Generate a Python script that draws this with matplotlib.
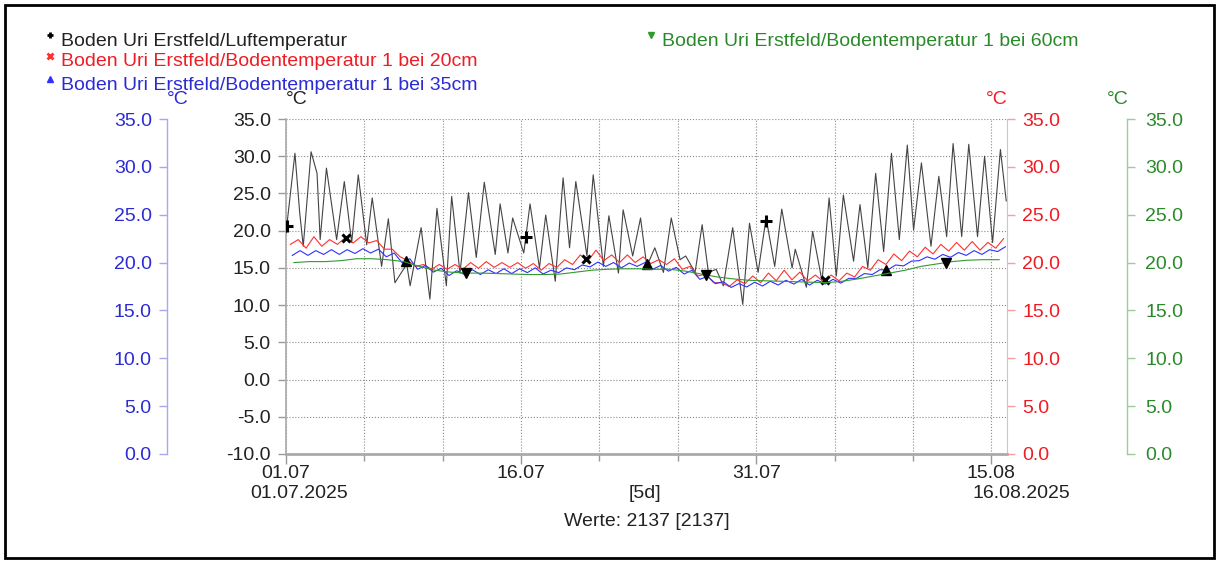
import numpy as np
import matplotlib
matplotlib.use("Agg")
import matplotlib.pyplot as plt
from matplotlib.lines import Line2D
from matplotlib.patches import Rectangle
from matplotlib.ticker import FixedLocator, FixedFormatter, FormatStrFormatter, MultipleLocator

plt.rcParams['font.family'] = ['Liberation Sans', 'DejaVu Sans']

# --- data, x in days since 01.07.2025 00:00 ---
# air temperature (daily turning points)
air_days = [0.0, 0.57, 0.87, 1.1, 1.6, 1.98, 2.18, 2.58, 3.23, 3.72, 4.19, 4.61, 5.15, 5.5,
            6.1, 6.53, 6.95, 7.7, 7.92, 8.62, 9.18, 9.63, 10.23, 10.57, 11.1, 11.64, 12.14,
            12.65, 13.35, 13.66, 14.16, 14.46, 15.17, 15.57, 16.17, 16.57, 17.18, 17.68,
            18.09, 18.49, 19.2, 19.6, 20.25, 20.6, 21.21, 21.51, 22.12, 22.62, 23.02, 23.53,
            24.08, 24.58, 25.14, 25.5, 26.1, 26.55, 26.95, 27.45, 27.9, 28.5, 29.14, 29.57,
            30.12, 30.63, 31.18, 31.63, 32.29, 32.49, 33.2, 33.6, 34.2, 34.65, 35.11, 35.56,
            36.21, 36.62, 37.12, 37.62, 38.13, 38.63, 39.13, 39.64, 40.04, 40.54, 41.15,
            41.65, 42.15, 42.56, 43.11, 43.56, 44.12, 44.57, 45.08, 45.58, 45.95]
air_temp = [19.7, 30.4, 22.5, 17.9, 30.6, 27.7, 18.8, 28.4, 18.8, 26.6, 18.4, 27.5, 18.1, 24.4,
            15.2, 21.6, 13.0, 15.5, 12.6, 20.4, 10.8, 23.0, 12.6, 24.6, 14.3, 25.1, 16.4,
            26.5, 16.8, 23.6, 17.0, 21.7, 17.0, 23.6, 15.0, 22.1, 13.2, 27.1,
            17.7, 26.6, 16.6, 27.5, 15.2, 22.0, 14.3, 22.8, 16.6, 21.7, 15.2, 17.7,
            14.4, 21.7, 16.1, 16.6, 14.4, 20.8, 14.4, 14.8, 12.6, 20.4, 10.1, 21.0,
            14.4, 21.7, 15.2, 22.9, 15.0, 17.5, 12.4, 19.9, 13.2, 24.4, 13.9, 24.8,
            15.9, 23.5, 15.0, 27.7, 17.2, 30.4, 18.8, 31.5, 20.1, 29.1, 17.9,
            27.3, 19.2, 31.7, 19.2, 31.6, 19.2, 30.0, 18.4, 30.9, 24.0]

# soil 20 cm: daily max / min
red_hi = [22.4, 22.7, 22.4, 22.6, 22.7, 22.3, 21.4, 20.2, 19.8, 19.8, 19.8, 20.0, 20.1, 20.0,
          20.0, 19.9, 19.9, 20.3, 20.8, 21.3, 20.8, 20.8, 20.6, 20.3, 20.4, 19.6, 18.8, 17.9,
          18.2, 18.6, 18.9, 19.2, 19.0, 18.7, 18.7, 18.9, 19.6, 20.3, 20.9, 21.2, 21.6, 21.9,
          22.1, 22.2, 22.1, 22.5]
red_lo = [21.9, 21.5, 21.7, 21.9, 22.05, 22.05, 21.4, 20.6, 19.6, 19.3, 19.3, 19.3, 19.4, 19.5,
          19.5, 19.4, 19.2, 19.5, 19.8, 20.2, 20.2, 20.0, 20.0, 19.9, 19.8, 19.3, 18.6, 17.9,
          17.5, 17.8, 17.9, 18.1, 18.2, 18.1, 18.0, 18.1, 18.5, 19.2, 19.8, 20.2, 20.6, 20.9,
          21.2, 21.3, 21.3, 21.5]
# soil 35 cm: daily max / min
blue_hi = [21.25, 21.25, 21.35, 21.35, 21.45, 21.4, 21.0, 20.4, 19.7, 19.4, 19.15, 19.25, 19.25,
           19.35, 19.35, 19.45, 19.2, 19.45, 19.75, 20.05, 20.0, 19.95, 20.0, 19.7, 19.5, 19.2,
           18.55, 18.0, 17.8, 17.95, 18.05, 18.15, 18.25, 18.15, 18.25, 18.35, 18.85, 19.25,
           19.75, 20.15, 20.6, 20.85, 21.05, 21.25, 21.35, 21.65]
blue_lo = [20.75, 20.75, 20.85, 20.85, 20.95, 21.0, 20.6, 20.0, 19.3, 19.0, 18.65, 18.75, 18.75,
           18.85, 18.85, 18.95, 18.8, 18.95, 19.25, 19.55, 19.6, 19.45, 19.6, 19.3, 19.1, 18.8,
           18.25, 17.8, 17.4, 17.45, 17.55, 17.65, 17.75, 17.65, 17.75, 17.85, 18.35, 18.75,
           19.25, 19.65, 20.2, 20.35, 20.55, 20.75, 20.85, 21.15]
# soil 60 cm: daily value
green_day = [20.0, 20.1, 20.1, 20.2, 20.4, 20.4, 20.3, 20.1, 19.6, 19.2, 19.0, 18.9, 18.9, 18.85,
             18.8, 18.75, 18.75, 18.8, 19.0, 19.2, 19.3, 19.35, 19.35, 19.3, 19.3, 19.1, 18.8,
             18.5, 18.3, 18.15, 18.1, 18.05, 18.0, 17.95, 17.9, 18.05, 18.3, 18.6, 18.9, 19.2,
             19.6, 19.85, 20.1, 20.25, 20.3, 20.3]

# marker positions (days)
air_marks = [0.05, 15.3, 30.6]
red_marks = [3.83, 19.15, 34.4]
blue_marks = [7.66, 23.0, 38.3]
green_marks = [11.5, 26.8, 42.1]

tick_days = [0, 15, 30, 45]
tick_labels = ['01.07', '16.07', '31.07', '15.08']
minor_days = [5, 10, 20, 25, 35, 40]

names = ['Boden Uri Erstfeld/Luftemperatur',
         'Boden Uri Erstfeld/Bodentemperatur 1 bei 20cm',
         'Boden Uri Erstfeld/Bodentemperatur 1 bei 35cm',
         'Boden Uri Erstfeld/Bodentemperatur 1 bei 60cm']

BLACK = '#444444'
RED = '#ff3030'
BLUE = '#3030ff'
GREEN = '#2f9a2f'
RED_T = '#ee1c24'
BLUE_T = '#2b2bd6'
GREEN_T = '#2a8a2a'
TXT = '#222222'

# build soil time series
days = np.arange(len(red_hi))
red_t = np.ravel(np.column_stack([days + 0.28, days + 0.78]))
red_v = np.ravel(np.column_stack([red_lo, red_hi]))
blue_t = np.ravel(np.column_stack([days + 0.4, days + 0.9]))
blue_v = np.ravel(np.column_stack([blue_lo, blue_hi]))
green_t = days + 0.5

W, H = 1219, 563
fig = plt.figure(figsize=(W / 100, H / 100), dpi=100)


def fx(x):
    return x / W


def fy(y):
    return 1 - y / H


FS = 14
ax = fig.add_axes([fx(286), fy(454), fx(1007) - fx(286), fy(119) - fy(454)])
ax.set_xlim(0, 46)
ax.set_ylim(-10, 35)
ax.plot(air_days, air_temp, color=BLACK, lw=0.8, zorder=3)
ax.plot(air_marks, np.interp(air_marks, air_days, air_temp), ls='none', marker='+',
        ms=8, mew=2.2, color='black', zorder=5)

ax.xaxis.set_major_locator(FixedLocator(tick_days))
ax.xaxis.set_major_formatter(FixedFormatter(tick_labels))
ax.xaxis.set_minor_locator(FixedLocator(minor_days))
ax.yaxis.set_major_locator(MultipleLocator(5))
ax.yaxis.set_major_formatter(FormatStrFormatter('%.1f'))
ax.grid(True, which='both', ls=':', color='#8a8a8a', lw=0.8)
ax.tick_params(axis='x', which='major', length=7, width=1, color='#999999', pad=1,
               labelsize=FS, labelcolor=TXT)
ax.tick_params(axis='x', which='minor', length=5, width=1, color='#999999')
ax.tick_params(axis='y', length=6, width=1, color='#999999', pad=5,
               labelsize=FS, labelcolor=TXT)
ax.spines['top'].set_visible(False)
ax.spines['right'].set_color('#c8c8c8')
ax.spines['right'].set_linewidth(0.8)
ax.spines['bottom'].set_color('#aaaaaa')
ax.spines['bottom'].set_linewidth(2)
ax.spines['left'].set_color('#aaaaaa')
ax.spines['left'].set_linewidth(1.2)


def side_axis(side, pos, line_col, text_col, pad):
    a = ax.twinx()
    a.set_ylim(0, 35)
    for s in ['top', 'bottom', 'left', 'right']:
        a.spines[s].set_visible(False)
    a.spines[side].set_visible(True)
    a.spines[side].set_position(('axes', pos))
    a.spines[side].set_color(line_col)
    a.spines[side].set_linewidth(1)
    if side == 'left':
        a.yaxis.tick_left()
    else:
        a.yaxis.tick_right()
    a.yaxis.set_major_locator(MultipleLocator(5))
    a.yaxis.set_major_formatter(FormatStrFormatter('%.1f'))
    a.tick_params(axis='y', length=6, width=1, color=line_col, pad=pad,
                  labelsize=FS, labelcolor=text_col)
    return a


span = 1007 - 286
ax_red = side_axis('right', 1.0, '#f4a0a0', RED_T, 5)
ax_red.spines['right'].set_visible(False)
ax_blue = side_axis('left', (167 - 286) / span, '#a8a8f0', BLUE_T, 5)
ax_green = side_axis('right', (1127 - 286) / span, '#9ccc9c', GREEN_T, 7)

ax_green.plot(green_t, green_day, color=GREEN, lw=0.8)
ax_blue.plot(blue_t, blue_v, color=BLUE, lw=0.8)
ax_red.plot(red_t, red_v, color=RED, lw=0.8)
ax_red.plot(red_marks, np.interp(red_marks, red_t, red_v), ls='none', marker='x',
            ms=6, mew=2.2, color='black')
ax_blue.plot(blue_marks, np.interp(blue_marks, blue_t, blue_v), ls='none', marker='^',
             ms=7, color='black')
ax_green.plot(green_marks, np.interp(green_marks, green_t, green_day), ls='none',
              marker='v', ms=7, color='black')
for a in (ax_red, ax_blue, ax_green):
    a.set_xlim(0, 46)

# unit labels
fig.text(fx(178), fy(100), '°C', color=BLUE_T, fontsize=FS, ha='center', va='center')
fig.text(fx(297), fy(100), '°C', color=TXT, fontsize=FS, ha='center', va='center')
fig.text(fx(997), fy(100), '°C', color=RED_T, fontsize=FS, ha='center', va='center')
fig.text(fx(1118), fy(100), '°C', color=GREEN_T, fontsize=FS, ha='center', va='center')

# legend
leg = [(50, 41, names[0], 'black', TXT, '+'),
       (50, 62, names[1], RED, RED_T, 'x'),
       (50, 85, names[2], BLUE, BLUE_T, '^'),
       (651, 41, names[3], GREEN, GREEN_T, 'v')]
for x, y, txt, mc, tc, m in leg:
    mew = 2 if m in '+x' else 1
    fig.add_artist(Line2D([fx(x)], [fy(y - 6)], marker=m, ms=5, mew=mew, color=mc,
                          transform=fig.transFigure))
    fig.text(fx(x + 11), fy(y), txt, color=tc, fontsize=FS, ha='left', va='center')

# footer texts
fig.text(fx(299), fy(493), '01.07.2025', color=TXT, fontsize=FS, ha='center', va='center')
fig.text(fx(645), fy(493), '[5d]', color=TXT, fontsize=FS, ha='center', va='center')
fig.text(fx(1021), fy(493), '16.08.2025', color=TXT, fontsize=FS, ha='center', va='center')
fig.text(fx(647), fy(521), 'Werte: 2137 [2137]', color=TXT, fontsize=FS,
         ha='center', va='center')

# outer frame
fig.patches.append(Rectangle((fx(5), fy(558)), fx(1214) - fx(5), fy(5) - fy(558),
                             transform=fig.transFigure, fill=False, lw=2, ec='black'))

fig.savefig('out.png', dpi=100)
